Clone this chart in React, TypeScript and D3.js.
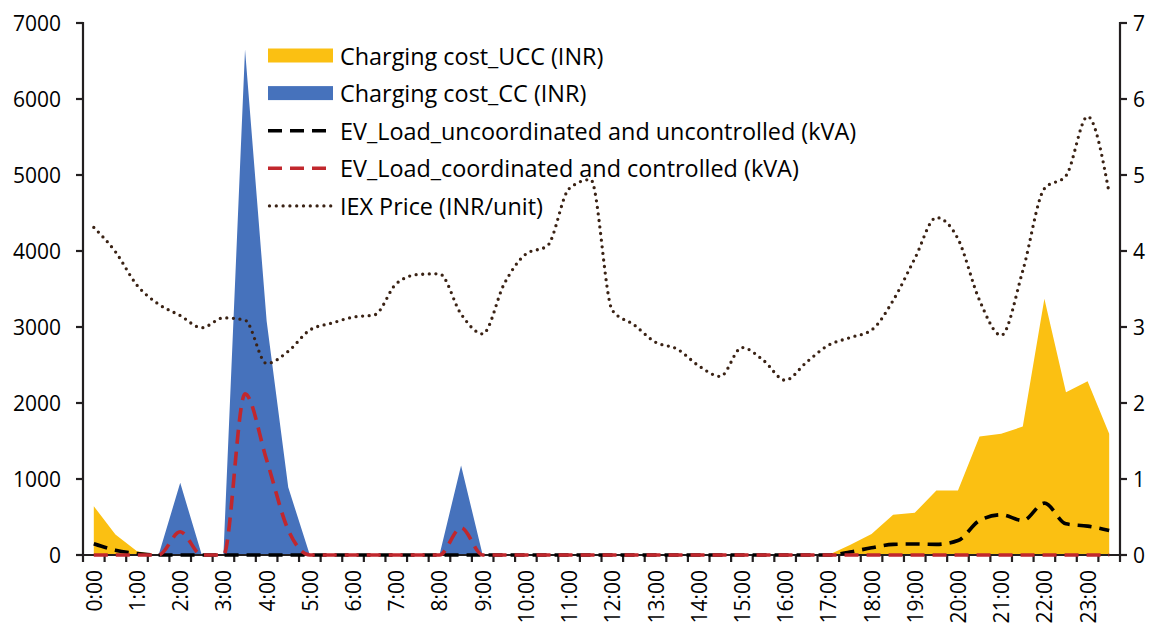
import React from "react";
import * as d3 from "d3";

const categories = [
  "0:00","0:30","1:00","1:30","2:00","2:30","3:00","3:30","4:00","4:30","5:00","5:30",
  "6:00","6:30","7:00","7:30","8:00","8:30","9:00","9:30","10:00","10:30","11:00","11:30",
  "12:00","12:30","13:00","13:30","14:00","14:30","15:00","15:30","16:00","16:30","17:00","17:30",
  "18:00","18:30","19:00","19:30","20:00","20:30","21:00","21:30","22:00","22:30","23:00","23:30",
];
const hourLabels = [
  "0:00","1:00","2:00","3:00","4:00","5:00","6:00","7:00","8:00","9:00","10:00","11:00",
  "12:00","13:00","14:00","15:00","16:00","17:00","18:00","19:00","20:00","21:00","22:00","23:00",
];

const chargingCostUCC = [
  642, 270, 50, 0, 0, 0, 0, 0, 0, 0, 0, 0,
  0, 0, 0, 0, 0, 0, 0, 0, 0, 0, 0, 0,
  0, 0, 0, 0, 0, 0, 0, 0, 0, 0, 0, 130,
  276, 530, 555, 850, 850, 1560, 1594, 1690, 3371, 2142, 2287, 1594,
];
const chargingCostCC = [
  0, 0, 0, 0, 950, 0, 0, 6650, 3080, 890, 0, 0,
  0, 0, 0, 0, 0, 1178, 0, 0, 0, 0, 0, 0,
  0, 0, 0, 0, 0, 0, 0, 0, 0, 0, 0, 0,
  0, 0, 0, 0, 0, 0, 0, 0, 0, 0, 0, 0,
];
const evLoadUncoordinated = [
  147, 63, 20, 0, 0, 0, 0, 0, 0, 0, 0, 0,
  0, 0, 0, 0, 0, 0, 0, 0, 0, 0, 0, 0,
  0, 0, 0, 0, 0, 0, 0, 0, 0, 0, 0, 40,
  95, 140, 145, 140, 190, 454, 529, 454, 682, 410, 380, 322,
];
const evLoadCoordinated = [
  0, 0, 0, 0, 305, 0, 0, 2120, 1250, 330, 0, 0,
  0, 0, 0, 0, 0, 358, 0, 0, 0, 0, 0, 0,
  0, 0, 0, 0, 0, 0, 0, 0, 0, 0, 0, 0,
  0, 0, 0, 0, 0, 0, 0, 0, 0, 0, 0, 0,
];
const iexPrice = [
  4.31, 3.99, 3.55, 3.30, 3.15, 2.99, 3.12, 3.09, 2.52, 2.68, 2.96, 3.05,
  3.13, 3.16, 3.57, 3.69, 3.70, 3.17, 2.91, 3.57, 3.96, 4.07, 4.82, 4.94,
  3.22, 3.03, 2.80, 2.71, 2.49, 2.35, 2.73, 2.56, 2.30, 2.54, 2.76, 2.86,
  2.96, 3.35, 3.90, 4.44, 4.16, 3.35, 2.89, 3.74, 4.82, 4.99, 5.77, 4.76,
];
const leftTicks = [0, 1000, 2000, 3000, 4000, 5000, 6000, 7000];
const rightTicks = [0, 1, 2, 3, 4, 5, 6, 7];
const legendLabels = [
  "Charging cost_UCC (INR)",
  "Charging cost_CC (INR)",
  "EV_Load_uncoordinated and uncontrolled (kVA)",
  "EV_Load_coordinated and controlled (kVA)",
  "IEX Price (INR/unit)",
];

const W = 1161, H = 629;
const L = 83, R = 1120, T = 23, B = 555;
const YELLOW = "#FBC012";
const BLUE = "#4672BC";
const RED = "#C1272D";
const BROWN = "#3A2214";
const AXIS = "#231F20";
const FONT = "'Open Sans', 'Noto Sans', sans-serif";
const FS = 21;
const LFS = 23.4;

export default function App() {
  const x = d3.scaleBand<string>().domain(categories).range([L, R]).paddingInner(0).paddingOuter(0);
  const bw = x.bandwidth();
  const cx = (i: number) => (x(categories[i]) as number) + bw / 2;
  const yL = d3.scaleLinear().domain([0, 7000]).range([B, T]);
  const yR = d3.scaleLinear().domain([0, 7]).range([B, T]);

  const area = (vals: number[]) =>
    d3.area<number>().x((_, i) => cx(i)).y0(yL(0)).y1((d) => yL(d))(vals) || "";
  const lineL = (vals: number[]) =>
    d3.line<number>().x((_, i) => cx(i)).y((d) => yL(d)).curve(d3.curveMonotoneX)(vals) || "";
  const lineR = (vals: number[]) =>
    d3.line<number>().x((_, i) => cx(i)).y((d) => yR(d)).curve(d3.curveMonotoneX)(vals) || "";

  const boundaries = categories.map((c) => x(c) as number).concat([R]);

  const legendX = 268, legendY0 = 55.5, legendDy = 37.6;

  return (
    <svg width={W} height={H} style={{ position: "absolute", left: 0, top: 0, background: "#fff" }}
      fontFamily={FONT}>
      {/* areas */}
      <path d={area(chargingCostUCC)} fill={YELLOW} />
      <path d={area(chargingCostCC)} fill={BLUE} />

      {/* axes */}
      <g stroke={AXIS} strokeWidth={2.2} fill="none">
        <line x1={L} x2={L} y1={T - 1} y2={B + 1} />
        <line x1={R} x2={R} y1={T - 1} y2={B + 1} />
        <line x1={L - 7} x2={R + 7} y1={B} y2={B} />
        {leftTicks.map((t) => (
          <line key={"lt" + t} x1={L - 7} x2={L} y1={yL(t)} y2={yL(t)} />
        ))}
        {rightTicks.map((t) => (
          <line key={"rt" + t} x1={R} x2={R + 7} y1={yR(t)} y2={yR(t)} />
        ))}
        {boundaries.map((b, i) => (
          <line key={"xt" + i} x1={b} x2={b} y1={B} y2={B + 7} />
        ))}
      </g>

      {/* lines */}
      <path d={lineL(evLoadUncoordinated)} fill="none" stroke="#000" strokeWidth={3.6}
        strokeDasharray="14 8" />
      <path d={lineL(evLoadCoordinated)} fill="none" stroke={RED} strokeWidth={3.6}
        strokeDasharray="14 8" />
      <path d={lineR(iexPrice)} fill="none" stroke={BROWN} strokeWidth={3.3}
        strokeDasharray="0 6.6" strokeLinecap="round" />

      {/* tick labels */}
      <g fontSize={FS} fill="#000">
        {leftTicks.map((t) => (
          <text key={"ll" + t} x={L - 22} y={yL(t)} textAnchor="end" dominantBaseline="central">{t}</text>
        ))}
        {rightTicks.map((t) => (
          <text key={"rl" + t} x={R + 13} y={yR(t)} textAnchor="start" dominantBaseline="central">{t}</text>
        ))}
        {hourLabels.map((lab) => {
          const i = categories.indexOf(lab);
          return (
            <text key={"xl" + lab} transform={`translate(${cx(i)},${B + 15}) rotate(-90)`}
              textAnchor="end" dominantBaseline="central">{lab}</text>
          );
        })}
      </g>

      {/* legend */}
      <g fontSize={LFS} fill="#000">
        {legendLabels.map((lab, k) => {
          const y = legendY0 + k * legendDy;
          let sw: React.ReactNode = null;
          if (k === 0) sw = <rect x={legendX} y={y - 7} width={65} height={14} fill={YELLOW} />;
          if (k === 1) sw = <rect x={legendX} y={y - 7} width={65} height={14} fill={BLUE} />;
          if (k === 2) sw = <line x1={legendX} x2={legendX + 66} y1={y} y2={y} stroke="#000" strokeWidth={3.6} strokeDasharray="14 8" />;
          if (k === 3) sw = <line x1={legendX} x2={legendX + 66} y1={y} y2={y} stroke={RED} strokeWidth={3.6} strokeDasharray="14 8" />;
          if (k === 4) sw = <line x1={legendX + 1.5} x2={legendX + 64} y1={y} y2={y} stroke={BROWN} strokeWidth={3.3} strokeDasharray="0 6.8" strokeLinecap="round" />;
          return (
            <g key={"lg" + k}>
              {sw}
              <text x={legendX + 72} y={y} dominantBaseline="central">{lab}</text>
            </g>
          );
        })}
      </g>
    </svg>
  );
}
